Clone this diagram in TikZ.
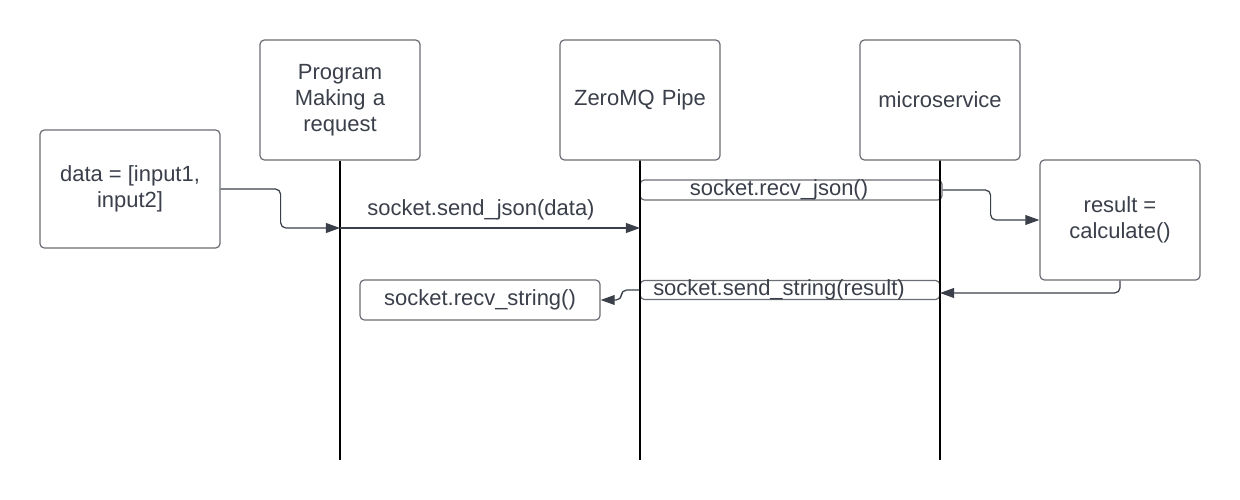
\documentclass[tikz,border=0pt]{standalone}
\usepackage{fontspec}
\setmainfont{Liberation Sans}
\usetikzlibrary{arrows.meta,positioning}
\definecolor{boxline}{HTML}{6A6D73}
\definecolor{inkgray}{HTML}{3A3F4A}
\begin{document}
\begin{tikzpicture}[node distance=6cm, every node/.style={font=\fontsize{12.5}{14.8}\selectfont, text=inkgray}]
    \tikzstyle{actor} = [rectangle, draw=boxline, line width=0.7pt, text width=2.8cm, align=center, rounded corners=2.5pt, minimum width=3.2cm, minimum height=2.4cm]
    \tikzstyle{box} = [rectangle, draw=boxline, line width=0.7pt, align=center, rounded corners=2.5pt, minimum height=2.4cm]
    \tikzstyle{call} = [rectangle, draw=boxline, line width=0.7pt, rounded corners=2.5pt, inner sep=0pt, text height=7.5pt, text depth=1.8pt]
    \tikzstyle{lifeline} = [line width=1.1pt, black]
    \tikzstyle{msg} = [-{Triangle[length=8pt, width=5.6pt]}, inkgray, line width=0.7pt, rounded corners=3pt]
    \useasboundingbox (0,0) rectangle (24.8,-10);

    \node (prog) [actor] at (6.8,-2) {Program\\Making a\\request};
    \node (pipe) [actor, right of=prog] {ZeroMQ Pipe};
    \node (micro) [actor, right of=pipe] {microservice};

    \node (data) [box, minimum width=3.6cm, minimum height=2.36cm] at (2.6,-3.78) {data = [input1,\\input2]};
    \node (result) [box, minimum width=3.2cm] at (22.4,-4.4) {result =\\calculate()};
    % text sits a little left of centre in the two pipe boxes
    \node (recvJson) [call, minimum width=6.04cm, minimum height=0.4cm] at (15.82,-3.8) {socket.recv\_json()\rule{0.48cm}{0pt}};
    \node (sendStr) [call, minimum width=6cm, minimum height=0.38cm] at (15.8,-5.8) {socket.send\_string(result)\rule{0.44cm}{0pt}};
    \node (recvStr) [call, minimum width=4.8cm, minimum height=0.8cm] at (9.6,-6) {socket.recv\_string()};

    % lifelines
    \coordinate (progEnd) at (6.8,-9.2);
    \coordinate (pipeEnd) at (12.8,-9.2);
    \coordinate (microEnd) at (18.8,-9.2);
    \draw [lifeline] (prog.south) -- (progEnd);
    \draw [lifeline] (pipe.south) -- (pipeEnd);
    \draw [lifeline] (micro.south) -- (microEnd);

    \coordinate (sendOut) at (6.8,-4.56);
    \coordinate (sendIn) at (12.8,-4.56);
    \coordinate (retIn) at (18.8,-5.86);

    \draw [msg] (data.east) -- ++(1.2,0) |- (sendOut);
    \draw [msg] (sendOut) -- node [above=1pt, pos=0.47] {socket.send\_json(data)} (sendIn);
    \draw [msg] (recvJson.east) -- ++(0.96,0) |- (result.west);
    \draw [msg] (result.south) |- (retIn);
    \draw [msg] (sendStr.west) -- ++(-0.36,0) |- (recvStr.east);

\end{tikzpicture}
\end{document}
